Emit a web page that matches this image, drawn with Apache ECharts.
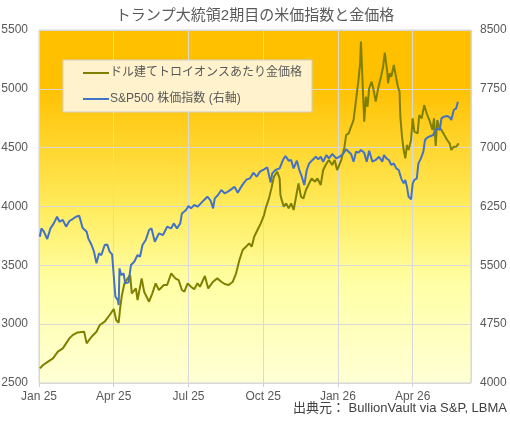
<!DOCTYPE html>
<html style="height: 100%">
<head>
<meta charset="utf-8">
<script src="https://cdn.jsdelivr.net/npm/echarts@6/dist/echarts.min.js"></script>
</head>
<body style="height: 100%; margin: 0; background: #fff">
<div id="container" style="width: 510px; height: 421px"></div>
<script type="text/javascript">
var FONT = "'Liberation Sans', 'Noto Sans CJK JP', sans-serif";

var quarterLabels = ['Jan 25', 'Apr 25', 'Jul 25', 'Oct 25', 'Jan 26', 'Apr 26'];

var goldDates = [
    '2025-01-02', '2025-01-06', '2025-01-12', '2025-01-18', '2025-01-24', '2025-01-30',
    '2025-02-03', '2025-02-07', '2025-02-11', '2025-02-17', '2025-02-25', '2025-02-28',
    '2025-03-06', '2025-03-12', '2025-03-16', '2025-03-22', '2025-03-28', '2025-04-02',
    '2025-04-05', '2025-04-08', '2025-04-10', '2025-04-12', '2025-04-15', '2025-04-19',
    '2025-04-22', '2025-04-24', '2025-04-29', '2025-05-01', '2025-05-06', '2025-05-09',
    '2025-05-15', '2025-05-19', '2025-05-23', '2025-05-27', '2025-06-02', '2025-06-06',
    '2025-06-11', '2025-06-16', '2025-06-20', '2025-06-24', '2025-06-27', '2025-07-01',
    '2025-07-05', '2025-07-09', '2025-07-13', '2025-07-16', '2025-07-22', '2025-07-26',
    '2025-08-01', '2025-08-06', '2025-08-11', '2025-08-15', '2025-08-20', '2025-08-25',
    '2025-08-29', '2025-09-02', '2025-09-06', '2025-09-10', '2025-09-14', '2025-09-17',
    '2025-09-20', '2025-09-24', '2025-09-28', '2025-10-02', '2025-10-04', '2025-10-08',
    '2025-10-11', '2025-10-14', '2025-10-18', '2025-10-21', '2025-10-22', '2025-10-23',
    '2025-10-26', '2025-10-29', '2025-11-01', '2025-11-04', '2025-11-07', '2025-11-10',
    '2025-11-13', '2025-11-16', '2025-11-19', '2025-11-22', '2025-11-25', '2025-11-29',
    '2025-12-03', '2025-12-06', '2025-12-10', '2025-12-13', '2025-12-16', '2025-12-20',
    '2025-12-24', '2025-12-27', '2025-12-30', '2026-01-04', '2026-01-08', '2026-01-10',
    '2026-01-13', '2026-01-16', '2026-01-19', '2026-01-22', '2026-01-25', '2026-01-27',
    '2026-01-28', '2026-01-30', '2026-02-01', '2026-02-03', '2026-02-05', '2026-02-07',
    '2026-02-10', '2026-02-12', '2026-02-15', '2026-02-18', '2026-02-21', '2026-02-24',
    '2026-02-26', '2026-03-01', '2026-03-02', '2026-03-04', '2026-03-06', '2026-03-09',
    '2026-03-12', '2026-03-14', '2026-03-16', '2026-03-17', '2026-03-19', '2026-03-21',
    '2026-03-23', '2026-03-25', '2026-03-27', '2026-03-30', '2026-04-01', '2026-04-03',
    '2026-04-07', '2026-04-09', '2026-04-12', '2026-04-15', '2026-04-18', '2026-04-22',
    '2026-04-25', '2026-04-27', '2026-04-29', '2026-05-01', '2026-05-03', '2026-05-06',
    '2026-05-13', '2026-05-16', '2026-05-18', '2026-05-21', '2026-05-24', '2026-05-27'
];
var goldPrices = [
    2624, 2653, 2681, 2709, 2766, 2794,
    2837, 2879, 2907, 2930, 2936, 2837,
    2893, 2936, 2993, 3021, 3078, 3129,
    3035, 3012, 3148, 3248, 3347, 3389,
    3418, 3262, 3304, 3205, 3389, 3276,
    3191, 3262, 3347, 3290, 3333, 3333,
    3432, 3389, 3375, 3290, 3276, 3347,
    3318, 3296, 3347, 3318, 3409, 3304,
    3361, 3389, 3361, 3341, 3333, 3361,
    3432, 3545, 3630, 3658, 3687, 3658,
    3743, 3800, 3857, 3927, 3984, 4069,
    4154, 4253, 4296, 4239, 4097, 4069,
    3998, 4027, 3984, 4027, 3970, 4083,
    4197, 4083, 4069, 4140, 4183, 4239,
    4211, 4239, 4183, 4310, 4353, 4395,
    4353, 4395, 4310, 4395, 4508, 4608,
    4622, 4678, 4735, 4905, 5075, 5217,
    5401, 5047, 4721, 4933, 4848, 5004,
    5061, 5004, 4891, 5004, 5089, 5188,
    5307, 5146, 5047, 5132, 5103, 5203,
    5089, 5018, 4976, 4763, 4593, 4480,
    4409, 4523, 4480, 4565, 4749, 4636,
    4622, 4777, 4749, 4862, 4792, 4721,
    4650, 4749, 4514, 4735, 4678, 4650,
    4565, 4537, 4480, 4508, 4508, 4537
];

var spxDates = [
    '2025-01-02', '2025-01-04', '2025-01-07', '2025-01-11', '2025-01-15', '2025-01-19',
    '2025-01-23', '2025-01-26', '2025-01-30', '2025-02-03', '2025-02-07', '2025-02-11',
    '2025-02-15', '2025-02-19', '2025-02-23', '2025-02-28', '2025-03-02', '2025-03-06',
    '2025-03-09', '2025-03-12', '2025-03-15', '2025-03-18', '2025-03-22', '2025-03-25',
    '2025-03-28', '2025-03-31', '2025-04-02', '2025-04-04', '2025-04-07', '2025-04-08',
    '2025-04-09', '2025-04-11', '2025-04-14', '2025-04-16', '2025-04-20', '2025-04-23',
    '2025-04-27', '2025-05-01', '2025-05-04', '2025-05-07', '2025-05-11', '2025-05-15',
    '2025-05-18', '2025-05-22', '2025-05-27', '2025-06-01', '2025-06-06', '2025-06-11',
    '2025-06-14', '2025-06-18', '2025-06-22', '2025-06-24', '2025-06-29', '2025-07-02',
    '2025-07-05', '2025-07-09', '2025-07-13', '2025-07-17', '2025-07-21', '2025-07-25',
    '2025-07-29', '2025-08-01', '2025-08-03', '2025-08-07', '2025-08-11', '2025-08-15',
    '2025-08-19', '2025-08-23', '2025-08-27', '2025-08-31', '2025-09-03', '2025-09-07',
    '2025-09-11', '2025-09-15', '2025-09-19', '2025-09-23', '2025-09-27', '2025-10-02',
    '2025-10-06', '2025-10-10', '2025-10-12', '2025-10-16', '2025-10-21', '2025-10-25',
    '2025-10-28', '2025-11-01', '2025-11-04', '2025-11-07', '2025-11-11', '2025-11-14',
    '2025-11-17', '2025-11-20', '2025-11-23', '2025-11-26', '2025-11-30', '2025-12-04',
    '2025-12-07', '2025-12-10', '2025-12-13', '2025-12-17', '2025-12-20', '2025-12-24',
    '2025-12-29', '2026-01-02', '2026-01-06', '2026-01-10', '2026-01-13', '2026-01-16',
    '2026-01-19', '2026-01-22', '2026-01-25', '2026-01-28', '2026-02-01', '2026-02-04',
    '2026-02-07', '2026-02-11', '2026-02-15', '2026-02-19', '2026-02-23', '2026-02-25',
    '2026-02-28', '2026-03-03', '2026-03-06', '2026-03-09', '2026-03-12', '2026-03-15',
    '2026-03-18', '2026-03-21', '2026-03-23', '2026-03-25', '2026-03-27', '2026-03-30',
    '2026-04-01', '2026-04-03', '2026-04-06', '2026-04-08', '2026-04-11', '2026-04-14',
    '2026-04-16', '2026-04-19', '2026-04-23', '2026-04-26', '2026-04-28', '2026-05-01',
    '2026-05-04', '2026-05-06', '2026-05-09', '2026-05-13', '2026-05-16', '2026-05-18',
    '2026-05-21', '2026-05-24', '2026-05-26'
];
var spxValues = [
    5865, 5971, 5929, 5835, 5971, 6035,
    6120, 6056, 6078, 5993, 6065, 6090,
    6120, 6133, 5980, 5929, 5844, 5759,
    5674, 5525, 5652, 5631, 5759, 5767,
    5674, 5640, 5620, 5100, 5057, 4994,
    5461, 5376, 5397, 5270, 5283, 5504,
    5546, 5631, 5610, 5759, 5823, 5950,
    5971, 5801, 5908, 5886, 5992, 5971,
    6035, 5971, 6035, 6162, 6205, 6256,
    6226, 6269, 6247, 6290, 6332, 6375,
    6324, 6226, 6354, 6396, 6460, 6417,
    6439, 6468, 6502, 6426, 6481, 6545,
    6596, 6609, 6681, 6630, 6694, 6724,
    6749, 6554, 6672, 6715, 6736, 6842,
    6893, 6834, 6842, 6736, 6834, 6715,
    6630, 6524, 6715, 6800, 6843, 6885,
    6851, 6885, 6821, 6906, 6864, 6919,
    6864, 6885, 6919, 6979, 6949, 6919,
    6821, 6949, 6936, 6970, 6936, 6821,
    6961, 6821, 6843, 6885, 6821, 6906,
    6864, 6843, 6779, 6800, 6736, 6715,
    6609, 6545, 6588, 6503, 6375, 6341,
    6545, 6588, 6609, 6800, 6864, 6949,
    7098, 7132, 7149, 7161, 7217, 7246,
    7225, 7374, 7395, 7404, 7387, 7353,
    7480, 7501, 7586
];

// x axis runs in days since 1 Jan 2025
var START = Date.parse('2025-01-01');
function dayOf(s) {
    return (Date.parse(s) - START) / 86400000;
}
function pairs(dates, vals) {
    return dates.map(function (d, i) { return [dayOf(d), vals[i]]; });
}
function plain(v) {
    return String(v);
}

var myChart = echarts.init(document.getElementById('container'));

var option = {
    backgroundColor: '#ffffff',
    textStyle: { fontFamily: FONT },
    animation: false,
    title: {
        text: 'トランプ大統領2期目の米価指数と金価格',
        left: 'center',
        top: 3,
        textStyle: { fontFamily: FONT, fontSize: 15, fontWeight: 'normal', color: '#595959' }
    },
    legend: {
        orient: 'vertical',
        left: 63,
        top: 60,
        width: 242,
        padding: [7, 10, 7, 20],
        itemGap: 14,
        itemWidth: 26,
        itemHeight: 2,
        icon: 'rect',
        backgroundColor: '#FFF2CC',
        borderColor: '#CFCFCF',
        borderWidth: 1,
        textStyle: { fontFamily: FONT, fontSize: 12, color: '#595959', padding: [0, 0, 0, -4] },
        data: ['ドル建てトロイオンスあたり金価格', 'S&P500 株価指数 (右軸)']
    },
    graphic: [{
        type: 'text',
        right: 3,
        top: 402,
        style: {
            text: '出典元： BullionVault via S&P, LBMA',
            font: '13px ' + FONT,
            fill: '#404040'
        }
    }],
    grid: {
        left: 39,
        right: 39,
        top: 30,
        bottom: 38,
        outerBoundsMode: 'none',
        containLabel: false,
        show: true,
        borderColor: '#D0D0D0',
        borderWidth: 1,
        backgroundColor: new echarts.graphic.LinearGradient(0, 0, 0, 1, [
            { offset: 0, color: '#FFC000' },
            { offset: 0.16, color: '#FFC000' },
            { offset: 0.5, color: '#FFEB5C' },
            { offset: 0.72, color: '#FFFFA6' },
            { offset: 1, color: '#FFFFD6' }
        ])
    },
    xAxis: {
        type: 'value',
        min: 0,
        max: 526,
        interval: 91,
        axisLine: { show: false },
        axisTick: { show: true, length: 4, lineStyle: { color: '#D0D0D0' } },
        splitLine: { show: true, lineStyle: { color: '#D9D9D9', width: 1 } },
        axisLabel: {
            margin: 8,
            fontSize: 12,
            color: '#595959',
            showMaxLabel: false,
            formatter: function (v) {
                var i = Math.round(v / 91);
                return (v % 91 === 0 && quarterLabels[i]) ? quarterLabels[i] : '';
            }
        }
    },
    yAxis: [{
        type: 'value',
        min: 2500,
        max: 5500,
        interval: 500,
        axisLine: { show: false },
        axisTick: { show: false },
        splitLine: { lineStyle: { color: '#D9D9D9', width: 1 } },
        axisLabel: { margin: 11, fontSize: 12, color: '#595959', formatter: plain }
    }, {
        type: 'value',
        min: 4000,
        max: 8500,
        interval: 750,
        position: 'right',
        axisLine: { show: false },
        axisTick: { show: false },
        splitLine: { show: false },
        axisLabel: { margin: 9, fontSize: 12, color: '#595959', formatter: plain }
    }],
    series: [{
        name: 'ドル建てトロイオンスあたり金価格',
        type: 'line',
        yAxisIndex: 0,
        symbol: 'none',
        color: '#808000',
        lineStyle: { width: 2, color: '#808000' },
        data: pairs(goldDates, goldPrices)
    }, {
        name: 'S&P500 株価指数 (右軸)',
        type: 'line',
        yAxisIndex: 1,
        symbol: 'none',
        color: '#4472C4',
        lineStyle: { width: 2, color: '#4472C4' },
        data: pairs(spxDates, spxValues)
    }]
};

myChart.setOption(option);
</script>
</body>
</html>
